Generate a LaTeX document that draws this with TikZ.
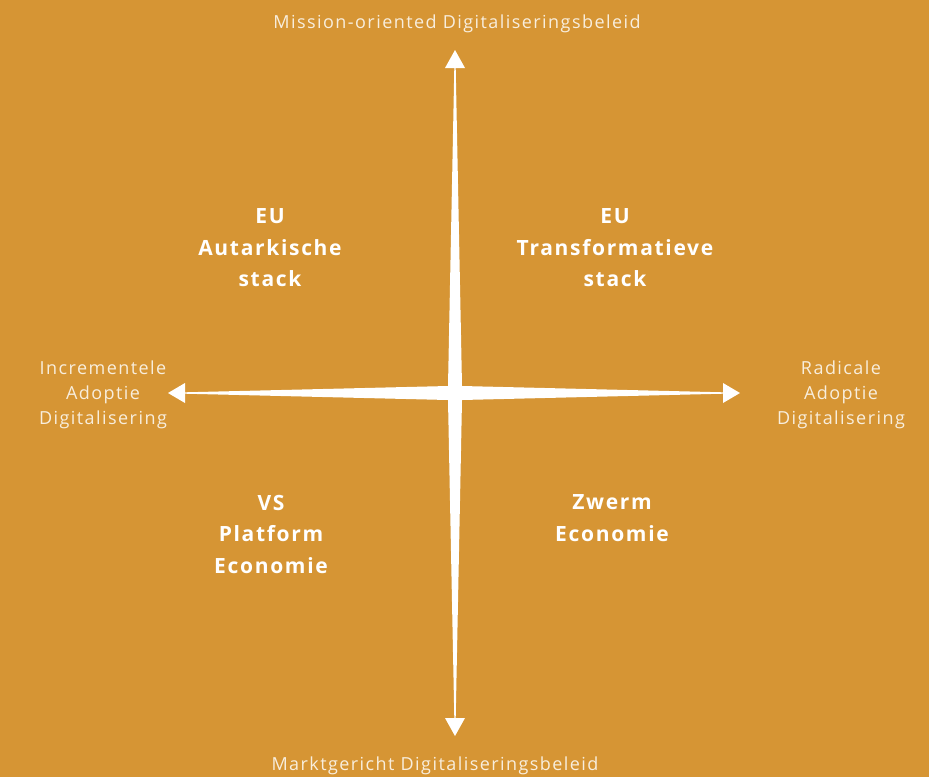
\documentclass[tikz,border=0pt]{standalone}
\usepackage{fontspec}
\setmainfont{Open Sans}[LetterSpace=8]
\definecolor{bg}{HTML}{D69534}
\definecolor{lbl}{HTML}{F8EEDD}
\begin{document}
\begin{tikzpicture}[x=1pt,y=-1pt,
  small/.style={text=lbl,align=center,font={\fontsize{18}{25}\selectfont},inner sep=0pt},
  big/.style={text=white,align=center,font={\fontsize{21}{31.5}\selectfont\bfseries},inner sep=0pt},
  head/.style={fill=white,draw=none}]
\fill[bg] (0,0) rectangle (929,777);
\useasboundingbox (0,0) rectangle (929,777);
% key points
\coordinate (c) at (455,393);
\coordinate (t) at (455,68);
\coordinate (b) at (455,718);
\coordinate (l) at (185,393);
\coordinate (r) at (723,393);
% star-shaped cross
\fill[white] (454.3,68) -- (455.7,68) -- (462,386) -- (723,392.3) -- (723,393.7) -- (462,400)
  -- (455.7,718) -- (454.3,718) -- (448,400) -- (185,393.7) -- (185,392.3) -- (448,386) -- cycle;
% arrowheads
\fill[head] (445,68) -- (455,50) -- (465,68) -- cycle;
\fill[head] (445,718) -- (455,736) -- (465,718) -- cycle;
\fill[head] (185,383) -- (168,393) -- (185,403) -- cycle;
\fill[head] (723,383) -- (740,393) -- (723,403) -- cycle;
% axis labels
\node[small,anchor=base] (top) at (457,28) {Mission-oriented Digitaliseringsbeleid};
\node[small,anchor=base] (bot) at (435,770) {Marktgericht Digitaliseringsbeleid};
\node[small] (left) at (103,395) {Incrementele\\Adoptie\\Digitalisering};
\node[small] (right) at (841,395) {Radicale\\Adoptie\\Digitalisering};
% quadrant labels
\node[big] (q1) at (270,248) {EU\\Autarkische\\stack};
\node[big] (q2) at (615,248) {EU\\Transformatieve\\stack};
\node[big] (q3) at (271,534) {VS\\Platform\\Economie};
\node[big] (q4) at (612,518) {Zwerm\\Economie};
\end{tikzpicture}
\end{document}
